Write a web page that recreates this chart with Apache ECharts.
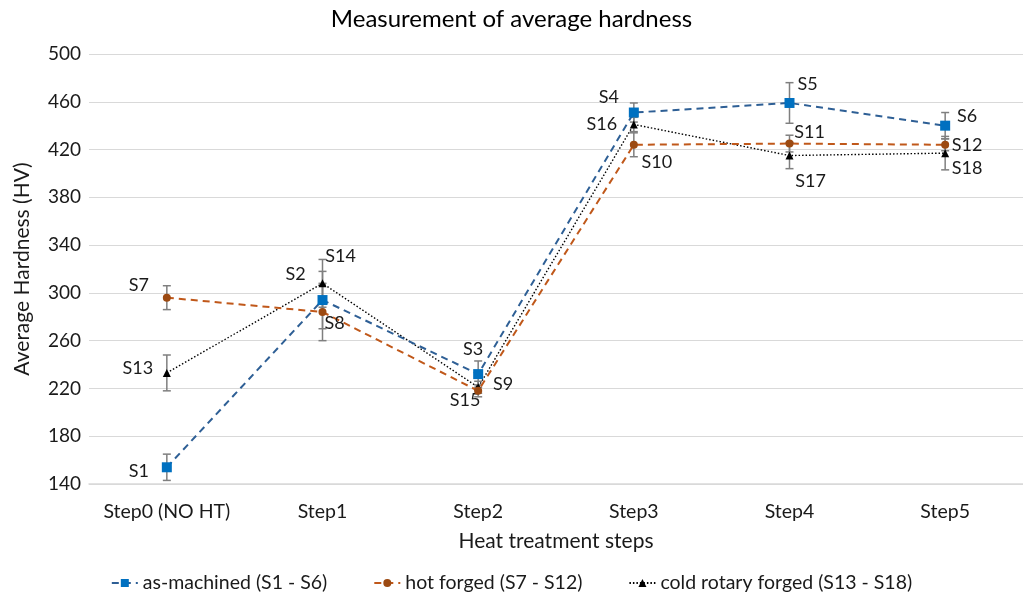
<!DOCTYPE html>
<html>
<head>
<meta charset="utf-8">
<script src="https://cdn.jsdelivr.net/npm/echarts@6/dist/echarts.min.js"></script>
<style>
html,body{margin:0;padding:0;background:#fff;}
#c{width:1023px;height:600px;}
</style>
</head>
<body>
<div id="c"></div>
<script>
const categories = ['Step0 (NO HT)', 'Step1', 'Step2', 'Step3', 'Step4', 'Step5'];
const seriesNames = ['as-machined (S1 - S6)', 'hot forged (S7 - S12)', 'cold rotary forged (S13 - S18)'];
const asMachined = [154, 294, 232, 451, 459, 440];
const asMachinedErr = [11, 24, 11, 8, 17, 11];
const hotForged = [296, 284, 218, 424, 425, 424];
const hotForgedErr = [10, 24, 5, 10, 7, 5];
const coldRotary = [233, 308, 221, 441, 415, 417];
const coldRotaryErr = [15, 20, 5, 6, 11, 14];
const asMachinedLabels = ['S1', 'S2', 'S3', 'S4', 'S5', 'S6'];
const hotForgedLabels = ['S7', 'S8', 'S9', 'S10', 'S11', 'S12'];
const coldRotaryLabels = ['S13', 'S14', 'S15', 'S16', 'S17', 'S18'];
const yTicks = {min: 140, max: 500, step: 40};

const FONT = 'Lato';
const TXT = '#1a1a1a';
// label offsets (style only)
const offA = [[-28, 4], [-27, -26], [-5, -25], [-25, -15], [18, -19], [22, -9]];
const offH = [[-28, -12], [12, 11], [25, -7], [23, 17], [20, -11], [22, 0]];
const offC = [[-29, -5], [18, -27], [-13, 13], [-32, 0], [21, 26], [22, 15]];

function pts(vals, labels, offs) {
  return vals.map((v, i) => ({
    value: v,
    label: {show: true, formatter: labels[i], position: 'inside', offset: offs[i],
      align: 'center', verticalAlign: 'middle', color: TXT, fontSize: 18, fontFamily: FONT}
  }));
}
function errData(vals, errs) {
  return vals.map((v, i) => [i, v - errs[i], v + errs[i]]);
}
function errSeries(vals, errs) {
  return {
    type: 'custom', silent: true, z: 1,
    data: errData(vals, errs),
    renderItem: function (params, api) {
      const lo = api.coord([api.value(0), api.value(1)]);
      const hi = api.coord([api.value(0), api.value(2)]);
      const w = 4;
      const st = {stroke: '#7f7f7f', lineWidth: 1.5};
      return {type: 'group', children: [
        {type: 'line', shape: {x1: lo[0], y1: lo[1], x2: hi[0], y2: hi[1]}, style: st},
        {type: 'line', shape: {x1: lo[0] - w, y1: lo[1], x2: lo[0] + w, y2: lo[1]}, style: st},
        {type: 'line', shape: {x1: hi[0] - w, y1: hi[1], x2: hi[0] + w, y2: hi[1]}, style: st}
      ]};
    }
  };
}

const chart = echarts.init(document.getElementById('c'));
chart.setOption({
  backgroundColor: '#fff',
  animation: false,
  title: {text: 'Measurement of average hardness', left: 'center', top: 2,
    textStyle: {fontFamily: FONT, fontSize: 24, fontWeight: 'normal', color: '#000'}},
  grid: {left: 89, top: 54, width: 944, height: 430},
  legend: {
    bottom: 2, left: 'center', itemGap: 46, itemWidth: 26, itemHeight: 10,
    textStyle: {fontFamily: FONT, fontSize: 19.5, color: TXT},
    data: seriesNames
  },
  xAxis: {
    type: 'category', data: categories, boundaryGap: true,
    name: 'Heat treatment steps', nameLocation: 'middle', nameGap: 47,
    nameTextStyle: {fontFamily: FONT, fontSize: 21, color: TXT},
    axisLine: {lineStyle: {color: '#d9d9d9', width: 1.5}},
    axisTick: {show: false},
    axisLabel: {fontFamily: FONT, fontSize: 19.5, color: TXT, margin: 18, interval: 0}
  },
  yAxis: {
    type: 'value', min: yTicks.min, max: yTicks.max, interval: yTicks.step,
    name: 'Average Hardness (HV)', nameLocation: 'middle', nameGap: 56,
    nameTextStyle: {fontFamily: FONT, fontSize: 21, color: TXT},
    axisLine: {show: false}, axisTick: {show: false},
    axisLabel: {fontFamily: FONT, fontSize: 19, color: TXT, margin: 8},
    splitLine: {lineStyle: {color: '#d9d9d9', width: 1.2}}
  },
  series: [
    errSeries(asMachined, asMachinedErr),
    errSeries(hotForged, hotForgedErr),
    errSeries(coldRotary, coldRotaryErr),
    {
      name: seriesNames[2], type: 'line', z: 3,
      data: pts(coldRotary, coldRotaryLabels, offC),
      symbol: 'triangle', symbolSize: 8,
      itemStyle: {color: '#000'},
      lineStyle: {color: '#000', width: 1.4, type: [1.5, 2]}
    },
    {
      name: seriesNames[1], type: 'line', z: 4,
      data: pts(hotForged, hotForgedLabels, offH),
      symbol: 'circle', symbolSize: 8,
      itemStyle: {color: '#9c4a12'},
      lineStyle: {color: '#c0581a', width: 2, type: [7, 5]}
    },
    {
      name: seriesNames[0], type: 'line', z: 5,
      data: pts(asMachined, asMachinedLabels, offA),
      symbol: 'rect', symbolSize: 10,
      itemStyle: {color: '#0070c0'},
      lineStyle: {color: '#2e5f95', width: 2, type: [7, 5]}
    }
  ]
});
</script>
</body>
</html>
